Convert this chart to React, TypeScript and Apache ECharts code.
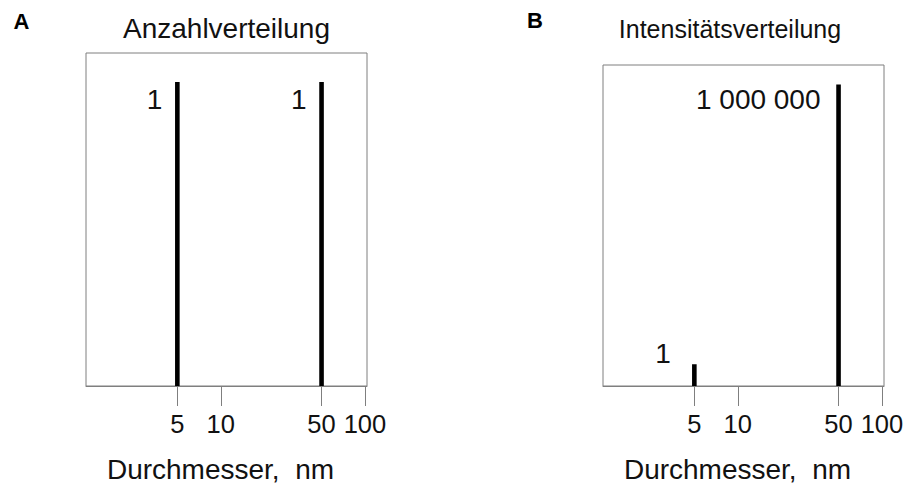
import React, { useEffect, useRef } from "react";
import * as echarts from "echarts";

// ---- data ----
const diametersA = [5, 50];
const countsA = [1, 1];
const diametersB = [5, 50];
const intensitiesB = [1, 1000000];
const xTickValues = [5, 10, 50, 100];
const titleA = "Anzahlverteilung";
const titleB = "Intensitätsverteilung";
const panelLetters = ["A", "B"];
const xAxisTitle = "Durchmesser,\u00a0 nm";

// ---- layout (not data) ----
const FONT = "'Liberation Sans', Arial, Helvetica, sans-serif";
const X_MIN_LOG = 0.0655;
const X_MAX_LOG = 2.0142;
const Y_A_MAX = 1.0957;
const Y_B_MIN_LOG = -0.4667;
const Y_B_MAX_LOG = 6.419;
const labelOffsetsA = [[-15, 17], [-15, 17]];
const labelOffsetsB = [[-23.5, -11], [-18, 15]];

function formatThousands(v: number): string {
  return String(v).replace(/\B(?=(\d{3})+(?!\d))/g, " ");
}

function makeSpikeSeries(
  gridIndex: number,
  xs: number[],
  ys: number[],
  labels: string[],
  offsets: number[][]
) {
  return {
    type: "custom",
    xAxisIndex: gridIndex,
    yAxisIndex: gridIndex,
    data: xs.map((x, i) => [x, ys[i]]),
    renderItem: (params: any, api: any) => {
      const idx = params.dataIndex;
      const top = api.coord([api.value(0), api.value(1)]);
      const cs = params.coordSys;
      const bottom = cs.y + cs.height;
      const off = offsets[idx];
      return {
        type: "group",
        children: [
          {
            type: "line",
            shape: { x1: top[0], y1: top[1], x2: top[0], y2: bottom },
            style: { stroke: "#000", lineWidth: 4.6 },
          },
          {
            type: "text",
            style: {
              text: labels[idx],
              x: top[0] + off[0],
              y: top[1] + off[1],
              align: "right",
              verticalAlign: "middle",
              fontSize: 28,
              fontFamily: FONT,
              fill: "#111",
            },
          },
        ],
      };
    },
  };
}

function makeXAxis(gridIndex: number) {
  const logTicks = xTickValues.map((v) => Math.log10(v));
  return {
    type: "value",
    gridIndex,
    min: X_MIN_LOG,
    max: X_MAX_LOG,
    name: xAxisTitle,
    nameLocation: "middle",
    nameGap: 69,
    nameTextStyle: {
      fontSize: 28,
      fontFamily: FONT,
      color: "#111",
      padding: [0, 12, 0, 0],
    },
    axisLine: {
      show: true,
      onZero: false,
      lineStyle: { color: "#7f7f7f", width: 1 },
    },
    axisTick: {
      show: true,
      customValues: logTicks,
      length: 20,
      lineStyle: { color: "#7f7f7f", width: 1 },
    },
    axisLabel: {
      show: true,
      customValues: logTicks,
      formatter: (v: number) => String(Math.round(Math.pow(10, v))),
      fontSize: 25.5,
      fontFamily: FONT,
      color: "#111",
      margin: 25,
    },
    splitLine: { show: false },
  };
}

export default function App() {
  const ref = useRef<HTMLDivElement>(null);
  useEffect(() => {
    if (!ref.current) return;
    const chart = echarts.init(ref.current, undefined, { renderer: "svg" });
    const labelsA = countsA.map(formatThousands);
    const labelsB = intensitiesB.map(formatThousands);
    chart.setOption({
      animation: false,
      backgroundColor: "#fff",
      grid: [
        {
          left: 86,
          top: 53,
          width: 281,
          height: 340,
          show: true,
          borderColor: "#7f7f7f",
          borderWidth: 1,
          containLabel: false,
        },
        {
          left: 603,
          top: 65,
          width: 281,
          height: 329,
          show: true,
          borderColor: "#7f7f7f",
          borderWidth: 1,
          containLabel: false,
        },
      ],
      xAxis: [makeXAxis(0), makeXAxis(1)],
      yAxis: [
        { type: "value", gridIndex: 0, min: 0, max: Y_A_MAX, show: false },
        {
          type: "value",
          gridIndex: 1,
          min: Y_B_MIN_LOG,
          max: Y_B_MAX_LOG,
          show: false,
        },
      ],
      series: [
        makeSpikeSeries(
          0,
          diametersA.map((d) => Math.log10(d)),
          countsA,
          labelsA,
          labelOffsetsA
        ),
        makeSpikeSeries(
          1,
          diametersB.map((d) => Math.log10(d)),
          intensitiesB.map((v) => Math.log10(v)),
          labelsB,
          labelOffsetsB
        ),
      ],
      graphic: [
        {
          type: "text",
          x: 226.5,
          y: 28.5,
          style: {
            text: titleA,
            align: "center",
            verticalAlign: "middle",
            fontSize: 28,
            fontFamily: FONT,
            fill: "#111",
          },
        },
        {
          type: "text",
          x: 730,
          y: 29,
          style: {
            text: titleB,
            align: "center",
            verticalAlign: "middle",
            fontSize: 25,
            fontFamily: FONT,
            fill: "#111",
          },
        },
        {
          type: "text",
          x: 21.5,
          y: 21,
          style: {
            text: panelLetters[0],
            align: "center",
            verticalAlign: "middle",
            fontSize: 22,
            fontWeight: "bold",
            fontFamily: FONT,
            fill: "#000",
          },
        },
        {
          type: "text",
          x: 535,
          y: 20,
          style: {
            text: panelLetters[1],
            align: "center",
            verticalAlign: "middle",
            fontSize: 22,
            fontWeight: "bold",
            fontFamily: FONT,
            fill: "#000",
          },
        },
      ],
    });
    return () => chart.dispose();
  }, []);
  return (
    <div
      ref={ref}
      style={{ position: "absolute", left: 0, top: 0, width: 911, height: 488 }}
    />
  );
}
